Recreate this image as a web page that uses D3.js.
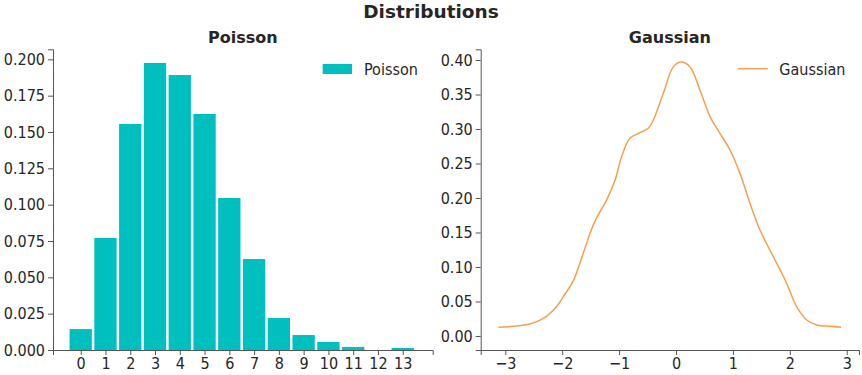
<!DOCTYPE html>
<html>
<head>
<meta charset="utf-8">
<script src="https://cdn.jsdelivr.net/npm/d3@7"></script>
<style>
  html, body { margin: 0; padding: 0; background: #fff; }
  svg { display: block; font-family: "DejaVu Sans", sans-serif; }
  .cond { font-family: "DejaVu Sans Condensed", "DejaVu Sans", sans-serif; font-stretch: condensed; }
</style>
</head>
<body>
<svg id="chart" width="862" height="375"></svg>
<script>
// ---- Data ----
const poissonK = [0, 1, 2, 3, 4, 5, 6, 7, 8, 9, 10, 11, 12, 13];
const poissonP = [0.0144, 0.0771, 0.1555, 0.1975, 0.1892, 0.1624, 0.1046, 0.0626, 0.0220, 0.0103, 0.0055, 0.0021, 0.0, 0.0014];
const gaussX = [-3.12, -2.85, -2.57, -2.33, -2.10, -1.98, -1.80, -1.63, -1.51, -1.40, -1.22, -1.07, -0.955, -0.81, -0.633, -0.486, -0.398, -0.223, -0.047, 0.088, 0.246, 0.42, 0.598, 0.773, 0.949, 1.125, 1.30, 1.476, 1.71, 1.945, 2.12, 2.297, 2.473, 2.71, 2.90];
const gaussY = [0.0125, 0.0140, 0.0174, 0.0256, 0.0425, 0.057, 0.081, 0.120, 0.149, 0.1705, 0.197, 0.226, 0.260, 0.2865, 0.2947, 0.301, 0.313, 0.3517, 0.390, 0.397, 0.390, 0.3565, 0.318, 0.2937, 0.2696, 0.2357, 0.1923, 0.1536, 0.115, 0.0763, 0.0425, 0.0232, 0.016, 0.0140, 0.0128];
const leftYTicks = [0, 0.025, 0.05, 0.075, 0.1, 0.125, 0.15, 0.175, 0.2];
const rightYTicks = [0, 0.05, 0.1, 0.15, 0.2, 0.25, 0.3, 0.35, 0.4];
const rightXTicks = [-3, -2, -1, 0, 1, 2, 3];
const suptitle = "Distributions";
const titles = ["Poisson", "Gaussian"];

// ---- Styles ----
const barColor = "#00bfbf";
const lineColor = "#f5a050";
const textColor = "#262626";
const spineColor = "#555555";
const tickFont = 16;

const svg = d3.select("#chart");

// Suptitle
svg.append("text").attr("x", 431).attr("y", 18).attr("text-anchor", "middle")
  .attr("font-size", 18.5).attr("font-weight", "bold").attr("fill", textColor).text(suptitle);

function styleAxis(g) {
  g.selectAll(".domain").attr("stroke", spineColor).attr("stroke-width", 1);
  g.selectAll(".tick line").attr("stroke", spineColor).attr("stroke-width", 1);
  g.selectAll(".tick text").attr("fill", textColor).attr("font-size", tickFont)
    .attr("font-family", null).attr("class", "cond");
}

// ---- Left: Poisson ----
const L = { x0: 53, x1: 432.7, y0: 350, y1: 49.3 };
const xL = d3.scaleLinear().domain([-1.118, 14.21]).range([L.x0, L.x1]);
const yL = d3.scaleLinear().domain([0, 0.2069]).range([L.y0, L.y1]);

svg.append("g").selectAll("rect").data(poissonK).join("rect")
  .attr("x", (d) => xL(d - 0.45))
  .attr("width", (d) => xL(d + 0.45) - xL(d - 0.45))
  .attr("y", (d, i) => yL(poissonP[i]))
  .attr("height", (d, i) => yL(0) - yL(poissonP[i]))
  .attr("fill", barColor);

const axLx = svg.append("g").attr("transform", `translate(0,${L.y0})`)
  .call(d3.axisBottom(xL).tickValues(poissonK).tickFormat(d3.format("d")).tickSizeOuter(0).tickSize(5).tickPadding(3));
styleAxis(axLx);
const axLy = svg.append("g").attr("transform", `translate(${L.x0},0)`)
  .call(d3.axisLeft(yL).tickValues(leftYTicks).tickFormat(d3.format(".3f")).tickSizeOuter(0).tickSize(5).tickPadding(3));
styleAxis(axLy);

svg.append("text").attr("x", (L.x0 + L.x1) / 2).attr("y", 42.5).attr("text-anchor", "middle")
  .attr("font-size", 16).attr("font-weight", "bold").attr("fill", textColor).text(titles[0]);

// Legend left
svg.append("rect").attr("x", 322.7).attr("y", 64).attr("width", 29.3).attr("height", 10).attr("fill", barColor);
svg.append("text").attr("class", "cond").attr("x", 364).attr("y", 75).attr("font-size", 16).attr("fill", textColor).text(titles[0]);

// ---- Right: Gaussian ----
const R = { x0: 480.7, x1: 859, y0: 350, y1: 49.3 };
const xR = d3.scaleLinear().domain([-3.432, 3.216]).range([R.x0, R.x1]);
const yR = d3.scaleLinear().domain([-0.0203, 0.4155]).range([R.y0, R.y1]);

const line = d3.line().x((d, i) => xR(gaussX[i])).y((d, i) => yR(gaussY[i])).curve(d3.curveCatmullRom.alpha(0.5));
svg.append("path").datum(gaussX).attr("d", line).attr("fill", "none")
  .attr("stroke", lineColor).attr("stroke-width", 1.5);

const axRx = svg.append("g").attr("transform", `translate(0,${R.y0})`)
  .call(d3.axisBottom(xR).tickValues(rightXTicks).tickFormat(d3.format("d")).tickSizeOuter(0).tickSize(5).tickPadding(3));
styleAxis(axRx);
const axRy = svg.append("g").attr("transform", `translate(${R.x0},0)`)
  .call(d3.axisLeft(yR).tickValues(rightYTicks).tickFormat(d3.format(".2f")).tickSizeOuter(0).tickSize(5).tickPadding(3));
styleAxis(axRy);

svg.append("text").attr("x", (R.x0 + R.x1) / 2).attr("y", 42.5).attr("text-anchor", "middle")
  .attr("font-size", 16).attr("font-weight", "bold").attr("fill", textColor).text(titles[1]);

// Legend right
svg.append("line").attr("x1", 737.7).attr("x2", 767.7).attr("y1", 68.7).attr("y2", 68.7)
  .attr("stroke", lineColor).attr("stroke-width", 1.5);
svg.append("text").attr("class", "cond").attr("x", 779.3).attr("y", 75).attr("font-size", 16).attr("fill", textColor).text(titles[1]);
</script>
</body>
</html>
